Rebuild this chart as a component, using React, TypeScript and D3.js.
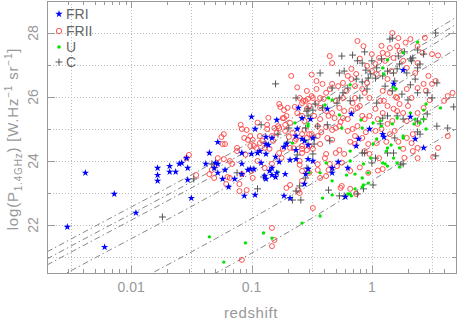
import React from "react";
import * as d3 from "d3";

// Each point: [log10(redshift), log P(1.4GHz)]
const friPoints: [number, number][] = [
  [-2.53,21.94],[-2.38,23.63],[-2.14,22.97],[-2.22,21.31],[-1.96,22.38],[-1.78,23.38],[-1.78,23.56],[-1.78,23.78],
  [-1.68,23.84],[-1.68,23.66],[-1.63,23.66],[-1.60,23.91],[-1.54,24.09],[-1.53,23.41],[-1.50,22.84],[-1.53,23.78],
  [-1.58,23.94],[-1.38,23.91],[-1.31,23.78],[-1.28,23.91],[-1.28,23.63],[-1.22,23.72],[-1.35,24.25],[-1.28,24.59],
  [-1.24,23.44],[-1.19,23.19],[-1.14,23.44],[-1.08,23.91],[-1.08,24.25],[-1.08,23.59],[-1.06,22.91],[-1.03,23.72],
  [-1.01,23.75],[-0.98,23.75],[-1.00,25.38],[-0.97,25.0],[-1.00,24.22],[-0.95,24.25],[-0.93,24.31],[-0.92,23.94],
  [-0.97,22.94],[-0.89,23.53],[-0.88,23.44],[-0.88,24.75],[-0.88,24.53],[-0.86,24.5],[-0.88,24.22],[-0.85,23.69],
  [-0.83,23.78],[-0.80,24.13],[-0.79,25.28],[-0.79,23.63],[-0.77,23.97],[-0.73,24.44],[-0.72,23.59],[-0.71,24.53],
  [-0.73,22.91],[-0.68,24.03],[-0.68,22.84],[-0.63,24.06],[-0.63,24.34],[-0.63,24.78],[-0.62,25.0],[-0.61,25.66],
  [-0.58,24.69],[-0.56,24.63],[-0.56,23.28],[-0.55,23.59],[-0.53,24.06],[-0.53,23.75],[-0.58,25.34],[-0.51,25.31],
  [-0.49,24.72],[-0.49,24.0],[-0.37,25.63],[-0.33,23.78],[-0.33,23.63],[-0.28,23.97],[-0.22,22.88],[-0.20,23.78],
  [-0.17,25.47],[-0.13,24.47],[-0.11,24.69],[-0.02,25.0],[0.09,24.84],[0.10,24.75],[0.18,26.41],[0.26,26.84],
  [0.32,25.38],[0.36,24.69],[0.43,24.41],[-1.30,23.94],[-0.83,24.72],[-0.53,24.5],[-0.80,23.5],[-0.83,23.56],
];

const friiPoints: [number, number][] = [
  [-0.67,26.66],[-0.76,25.69],[-0.70,25.66],[-0.73,25.59],[-1.09,25.13],[-1.08,25.0],[-1.04,24.97],[-1.01,24.78],
  [-1.06,24.72],[-1.23,24.84],[-1.25,24.75],[-1.24,24.53],[-1.22,24.53],[-1.12,24.41],[-1.12,24.31],[-1.03,24.66],
  [-0.99,24.66],[-0.93,24.78],[-0.87,25.13],[-0.87,25.0],[-0.81,25.03],[-0.83,24.78],[-0.78,25.09],[-0.73,25.34],
  [-0.71,25.41],[-0.58,25.81],[-0.57,25.88],[-0.53,25.94],[-0.54,25.63],[-1.52,24.19],[-1.28,24.09],[-1.23,24.06],
  [-0.93,24.56],[-0.96,24.41],[-0.89,24.41],[-0.66,24.88],[-0.69,24.75],[-0.63,24.69],[-1.01,24.47],[-0.79,24.88],
  [-0.77,25.03],[-0.72,24.94],[-0.72,25.13],[-0.68,25.19],[-0.77,25.78],[-0.64,25.69],[-0.74,25.34],[-0.82,24.63],
  [-0.91,24.63],[-0.98,24.47],[-0.85,24.38],[-1.16,23.91],[-1.18,24.0],[-1.33,23.72],[-1.35,23.59],[-1.31,23.47],
  [-1.20,23.5],[-1.08,23.59],[-1.00,23.69],[-0.99,23.47],[-0.89,23.78],[-0.83,23.91],[-0.77,24.25],[-0.74,24.38],
  [-0.68,24.41],[-0.64,24.63],[-0.58,24.84],[-0.58,24.38],[-1.54,24.09],[-1.10,23.28],[-1.10,23.06],[-1.04,23.09],
  [-0.71,23.16],[-0.68,23.25],[-0.58,24.25],[-1.46,23.56],[-1.31,23.84],[-1.21,23.28],[-1.18,23.47],[-0.60,23.88],
  [-0.58,23.38],[-0.83,21.91],[-0.81,21.53],[-0.83,21.34],[-1.08,20.91],[-0.49,22.53],[-0.26,23.16],[-0.18,23.13],
  [-0.13,22.97],[-0.61,23.09],[-0.60,23.0],[-0.52,23.63],[-0.45,23.72],[-0.38,23.53],[-0.35,23.91],[-0.29,23.84],
  [-0.03,23.63],[-0.43,23.47],[-0.36,23.72],[0.09,23.75],[-0.56,24.97],[-0.50,24.84],[-0.54,24.72],[-0.58,24.47],
  [-0.54,24.34],[-0.49,24.38],[-0.45,25.09],[-0.38,25.06],[-0.37,24.72],[-0.30,25.03],[-0.33,24.66],[-0.30,24.25],
  [-0.27,24.34],[-0.23,24.22],[-0.38,24.22],[-0.20,24.94],[-0.16,25.0],[-0.12,25.09],[-0.20,25.31],[-0.06,25.31],
  [-0.08,24.72],[-0.03,24.53],[0.03,24.94],[0.08,25.0],[0.13,25.16],[0.09,25.5],[0.15,24.84],[0.19,24.94],
  [0.29,24.72],[0.33,24.56],[0.34,24.31],[-0.02,24.22],[0.06,24.09],[-0.25,23.22],[-0.18,23.69],[-0.58,23.69],
  [0.29,25.25],[0.21,25.56],[0.38,25.5],[-0.07,27.59],[-0.33,27.06],[-0.46,26.5],[-0.54,26.19],[-0.55,25.88],
  [-0.49,25.97],[-0.43,25.97],[-0.35,26.25],[-0.33,26.41],[-0.28,26.34],[-0.24,26.44],[-0.24,25.97],[-0.30,25.88],
  [-0.21,26.19],[-0.17,26.56],[-0.14,26.34],[-0.13,26.72],[-0.04,26.44],[-0.04,26.97],[0.0,26.81],[0.0,27.34],
  [0.03,27.03],[0.04,26.72],[0.06,27.22],[0.09,27.38],[0.11,27.13],[0.13,27.34],[0.15,27.53],[0.18,27.22],
  [0.21,27.59],[0.23,27.44],[0.26,27.13],[0.16,26.81],[0.13,26.56],[0.29,26.91],[0.38,27.06],[0.42,27.38],
  [0.36,26.75],[0.43,26.41],[0.50,26.41],[0.47,26.66],[0.38,26.28],[0.29,26.25],[0.21,25.97],[0.15,26.13],
  [0.09,26.19],[0.07,25.88],[-0.02,25.97],[-0.06,26.13],[-0.10,25.72],[-0.16,25.81],[-0.17,25.59],[-0.27,25.66],
  [-0.33,25.5],[-0.38,25.56],[-0.43,25.66],[-0.52,25.72],[-0.60,25.97],[-0.24,25.34],[-0.08,25.41],[0.13,25.72],
  [0.23,25.78],[0.30,25.72],[0.63,26.03],[0.67,26.13],[0.43,25.66],[0.18,25.63],[-0.43,25.31],[0.17,25.25],
  [0.38,25.16],[-0.35,27.28],[-0.12,27.75],[0.17,28.0],[0.22,27.84],[0.32,27.81],[-0.17,26.88],[-0.20,26.66],
  [-0.46,26.25],[-0.41,26.41],[-0.46,25.81],[-0.58,25.41],[-0.52,24.84],[-0.52,24.47],[-0.43,24.53],[-0.39,24.09],
  [-0.14,24.53],[-0.06,24.31],[0.04,24.56],[0.26,24.38],[0.34,24.84],[0.38,24.41],[0.38,24.09],[0.51,24.13],
  [0.55,24.41],[0.63,24.78],[0.60,25.88],[0.53,26.5],[0.50,27.34],[0.38,27.59],[-0.56,25.25],[-0.48,25.41],
  [-0.31,25.34],[-0.23,25.56],[-0.38,26.13],[-0.08,26.25],[-0.45,24.78],[-0.27,25.09],[-0.14,24.78],[0.03,25.63],
  [-0.62,25.5],[-0.50,26.03],[-0.40,25.94],[-0.36,25.41],[-0.26,25.22],[-0.12,25.66],[-0.14,25.97],[-0.02,25.41],
  [0.05,25.31],[0.10,25.88],[0.20,26.0],[0.26,25.5],[0.33,25.97],[0.45,26.2],[0.48,25.9],[-0.42,24.9],
  [-0.33,24.97],[-0.18,24.6],[-0.05,24.9],[0.12,24.6],[0.22,24.6],[-0.65,24.4],[-0.75,24.1],[-0.95,24.0],
  [-1.05,24.2],[-0.60,24.0],[-0.45,23.9],[-0.25,23.95],[-0.10,23.8],[0.05,23.7],[0.27,24.1],[-0.86,25.35],
  [-0.95,25.2],[-0.62,26.3],[-0.50,26.7],[-0.10,27.2],[0.08,27.6],[0.28,27.7],[0.44,27.85],[0.55,27.3],
];

const uPoints: [number, number][] = [
  [-1.35,21.63],[-1.05,21.44],[-1.23,20.84],[-0.90,21.75],[-0.83,21.59],[-0.58,22.06],[-0.78,23.66],[-0.43,22.28],
  [-0.41,22.84],[-0.33,22.94],[-0.33,23.38],[-0.18,22.97],[-0.17,22.91],[-0.14,23.13],[-0.08,23.19],[-0.07,23.25],
  [-0.03,23.31],[-0.38,23.94],[-0.08,23.47],[-0.20,22.97],[-0.07,23.91],[0.11,23.91],[0.13,23.84],[0.23,23.81],
  [-0.21,23.56],[-0.53,25.09],[-0.52,23.63],[-0.43,23.63],[-0.33,23.63],[-0.18,24.31],[-0.18,24.0],[-0.14,23.59],
  [-0.03,23.63],[0.01,24.53],[0.04,24.69],[0.16,24.5],[0.26,24.78],[0.12,24.31],[0.21,23.94],[0.09,23.94],
  [-0.08,25.03],[0.01,25.19],[0.43,25.31],[-0.09,25.28],[-0.18,26.38],[-0.33,25.91],[-0.39,25.75],[-0.27,25.44],
  [0.13,27.16],[0.09,26.91],[0.26,27.38],[0.38,27.72],[0.18,26.31],[0.20,26.25],[0.45,25.78],[0.57,25.66],
  [0.43,25.59],[0.32,25.5],[0.21,25.34],[0.36,25.31],[0.07,25.25],[-0.25,25.03],[0.17,25.16],[0.40,25.19],
  [-0.64,25.19],[-0.58,25.34],[-0.66,24.56],[-0.53,25.16],[0.10,26.72],[-0.36,25.97],[0.08,25.09],[0.35,25.16],
  [0.45,25.0],[0.13,24.41],[0.23,24.41],[0.26,24.72],[-0.55,24.63],[-0.01,24.09],[0.18,24.09],
];

const cPoints: [number, number][] = [
  [-0.80,26.41],[-0.63,25.97],[-0.53,25.63],[-0.92,25.13],[-0.78,24.84],[-0.62,24.19],[-0.69,25.03],[-0.55,25.03],
  [-0.70,24.59],[-1.12,23.63],[-1.33,23.91],[-0.90,23.5],[-0.95,23.13],[-0.63,23.06],[-0.59,22.78],[-0.66,22.78],
  [-1.74,22.25],[-1.48,23.44],[-0.54,23.78],[-0.36,23.09],[-0.27,22.91],[-0.23,22.91],[-0.12,22.97],[-0.07,23.13],
  [0.01,23.25],[-0.55,23.47],[0.26,23.91],[-0.48,24.53],[-0.49,24.22],[-0.08,24.25],[0.0,23.94],[0.13,24.25],
  [0.18,24.25],[0.24,23.88],[0.54,25.09],[0.46,25.47],[0.43,25.31],[0.38,25.25],[0.09,25.34],[0.07,25.16],
  [0.26,25.31],[0.21,25.41],[0.15,27.81],[-0.16,27.31],[-0.25,27.28],[-0.06,27.41],[-0.08,27.06],[0.0,27.13],
  [-0.13,26.56],[-0.27,26.75],[-0.43,26.75],[-0.23,26.81],[0.04,26.91],[0.09,26.66],[0.03,26.59],[0.11,26.34],
  [0.17,26.19],[0.19,26.5],[0.23,27.03],[0.22,27.28],[0.33,27.13],[0.34,27.22],[0.38,26.91],[0.40,27.03],
  [0.53,28.0],[0.27,27.41],[0.21,26.88],[0.29,26.75],[0.36,26.56],[0.54,26.44],[0.50,25.97],[0.46,26.13],
  [0.38,26.13],[0.25,26.09],[0.30,25.91],[-0.49,25.59],[-0.47,25.78],[-0.41,25.66],[-0.29,25.81],[-0.18,25.88],
  [-0.10,25.97],[-0.04,26.25],[-0.03,26.59],[-0.05,26.84],[-0.20,26.28],[-0.33,26.28],[-0.24,26.13],[-0.45,25.09],
  [-0.54,25.56],[0.68,25.69],[0.38,27.47],[0.17,27.84],[0.08,27.19],[-0.12,27.13],[-0.08,26.47],[-0.01,26.72],
  [0.13,26.81],[0.18,26.75],[0.32,27.19],[0.43,27.34],[0.63,25.03],[0.32,26.38],[0.04,25.81],[-0.27,25.97],
  [-0.53,25.41],[-0.48,24.72],[-0.37,25.13],[0.13,25.41],[0.38,24.91],[0.40,24.84],[0.19,24.72],[0.03,24.09],
  [-0.06,24.25],[0.53,24.16],[-0.35,24.63],[-0.60,23.22],
];

// Flux-limit curves: logP at each redshift
const limitZ = [0.002, 0.005, 0.01, 0.03, 0.1, 0.3, 1, 2, 3, 5];
const limitA = [21.16, 21.96, 22.56, 23.52, 24.61, 25.65, 26.87, 27.6, 27.98, 28.49];
const limitB = [20.94, 21.74, 22.34, 23.3, 24.39, 25.43, 26.65, 27.38, 27.76, 28.27];
const limitC = [20.75, 21.55, 22.15, 23.11, 24.2, 25.24, 26.46, 27.19, 27.57, 28.08];
const limitD = [20.17, 20.97, 21.57, 22.53, 23.62, 24.66, 25.88, 26.61, 26.99, 27.5];
const limitE = [18.75, 19.55, 20.15, 21.11, 22.2, 23.24, 24.46, 25.19, 25.57, 26.08];
const limitF = [17.67, 18.47, 19.07, 20.03, 21.12, 22.16, 23.38, 24.11, 24.49, 25.0];
const limitLines = [limitA, limitB, limitC, limitD, limitE, limitF];

const xMajorTicks = [0.01, 0.1, 1];
const xTickLabels = ["0.01", "0.1", "1"];
const xGridExponents = [-2.5, -2, -1.5, -1, -0.5, 0, 0.5];
const yGridValues = [21, 22, 23, 24, 25, 26, 27, 28];
const yTickLabels = [22, 24, 26, 28];
const legendLabels = ["FRI", "FRII", "U", "C"];

const FONT = "'Liberation Sans', Arial, sans-serif";
const AXIS_COL = "#999";
const TEXT_COL = "#999";

export default function App() {
  const left = 47, right = 456, top = 1, bottom = 273;
  const x = d3.scaleLog().domain([0.002, 5]).range([left, right]);
  const y = d3.scaleLinear().domain([20.5, 29]).range([bottom, top]);
  const px = (lz: number) => x(Math.pow(10, lz));

  const starPath = d3.symbol(d3.symbolStar, 17)() as string;
  const plusPath = "M-3.5,0H3.5M0,-3.5V3.5";

  const lineGen = d3
    .line<number>()
    .x((_, i) => x(limitZ[i]))
    .y((d) => y(d))
    .curve(d3.curveMonotoneX);

  const allTicks = x.ticks();
  const isMajor = (t: number) => xMajorTicks.some((m) => Math.abs(t / m - 1) < 1e-6);

  const legendY = [14, 31, 47, 62];

  return (
    <svg
      width={457}
      height={321}
      style={{ position: "absolute", left: 0, top: 0, display: "block", background: "#fff" }}
    >
      <defs>
        <clipPath id="plotClip">
          <rect x={left} y={top} width={right - left} height={bottom - top} />
        </clipPath>
      </defs>

      {/* grid */}
      <g stroke="#bbb" strokeWidth={1} strokeDasharray="1,2">
        {xGridExponents.map((e) => {
          const gx = Math.round(x(Math.pow(10, e))) + 0.5;
          return <line key={"gx" + e} x1={gx} x2={gx} y1={top} y2={bottom} />;
        })}
        {yGridValues.map((v) => {
          const gy = Math.round(y(v)) + 0.5;
          return <line key={"gy" + v} x1={left} x2={right} y1={gy} y2={gy} />;
        })}
      </g>

      {/* limit lines */}
      <g clipPath="url(#plotClip)" fill="none" stroke="#888" strokeWidth={1} strokeDasharray="6,3,1.5,3">
        {limitLines.map((ln, i) => (
          <path key={"lim" + i} d={lineGen(ln) as string} />
        ))}
      </g>

      {/* data */}
      <g clipPath="url(#plotClip)">
        {friiPoints.map((p, i) => (
          <circle key={"r" + i} cx={px(p[0])} cy={y(p[1])} r={2.5} fill="none" stroke="#ff4040" strokeWidth={0.9} />
        ))}
        {cPoints.map((p, i) => (
          <path key={"c" + i} d={plusPath} transform={`translate(${px(p[0])},${y(p[1])})`} stroke="#555" strokeWidth={1} fill="none" />
        ))}
        {uPoints.map((p, i) => (
          <circle key={"u" + i} cx={px(p[0])} cy={y(p[1])} r={1.7} fill="#00e600" />
        ))}
        {friPoints.map((p, i) => (
          <path key={"b" + i} d={starPath} transform={`translate(${px(p[0])},${y(p[1])})`} fill="#0000ff" />
        ))}
      </g>

      {/* frame */}
      <rect x={left + 0.5} y={top + 0.5} width={right - left} height={bottom - top} fill="none" stroke={AXIS_COL} strokeWidth={1} />

      {/* ticks */}
      <g stroke={AXIS_COL} strokeWidth={1}>
        {allTicks.map((t, i) => {
          const tx = Math.round(x(t)) + 0.5;
          const len = isMajor(t) ? 7 : 4;
          return (
            <g key={"xt" + i}>
              <line x1={tx} x2={tx} y1={bottom} y2={bottom - len} />
              <line x1={tx} x2={tx} y1={top} y2={top + len} />
            </g>
          );
        })}
        {yGridValues.map((v) => {
          const ty = Math.round(y(v)) + 0.5;
          const len = v % 2 === 0 ? 8 : 4;
          return (
            <g key={"yt" + v}>
              <line x1={left} x2={left + len} y1={ty} y2={ty} />
              <line x1={right} x2={right - len} y1={ty} y2={ty} />
            </g>
          );
        })}
      </g>

      {/* x tick labels */}
      <g fill={TEXT_COL} fontFamily={FONT} fontSize={14} textAnchor="middle">
        {xMajorTicks.map((t, i) => (
          <text key={"xl" + i} x={x(t)} y={292}>
            {xTickLabels[i]}
          </text>
        ))}
      </g>

      {/* y tick labels */}
      <g fill={TEXT_COL} fontFamily={FONT} fontSize={14} textAnchor="middle">
        {yTickLabels.map((v) => (
          <text key={"yl" + v} transform={`translate(37.5,${y(v)}) rotate(-90)`}>
            {v}
          </text>
        ))}
      </g>

      {/* axis titles */}
      <text x={251} y={318} fill={TEXT_COL} fontFamily={FONT} fontSize={15} textAnchor="middle" letterSpacing={0.6}>
        redshift
      </text>
      <text
        transform={`translate(17.5,139) rotate(-90)`}
        fill={TEXT_COL}
        fontFamily={FONT}
        fontSize={15}
        textAnchor="middle"
        letterSpacing={0.8}
      >
        log(P
        <tspan fontSize={10} dy={4}>1.4GHz</tspan>
        <tspan dy={-4}>)  [W.Hz</tspan>
        <tspan fontSize={10} dy={-6}>−1</tspan>
        <tspan dy={6}> sr</tspan>
        <tspan fontSize={10} dy={-6}>−1</tspan>
        <tspan dy={6}>]</tspan>
      </text>

      {/* legend */}
      <g>
        <path d={starPath} transform={`translate(59,${legendY[0]})`} fill="#0000ff" />
        <circle cx={59} cy={legendY[1]} r={2.7} fill="none" stroke="#ff4040" strokeWidth={0.9} />
        <circle cx={59} cy={legendY[2]} r={1.8} fill="#00e600" />
        <path d={plusPath} transform={`translate(59,${legendY[3]})`} stroke="#555" strokeWidth={1} fill="none" />
        {legendLabels.map((l, i) => (
          <text key={"lg" + i} x={66} y={legendY[i] + 5} fill="#666" fontFamily={FONT} fontSize={14}>
            {l}
          </text>
        ))}
      </g>
    </svg>
  );
}
